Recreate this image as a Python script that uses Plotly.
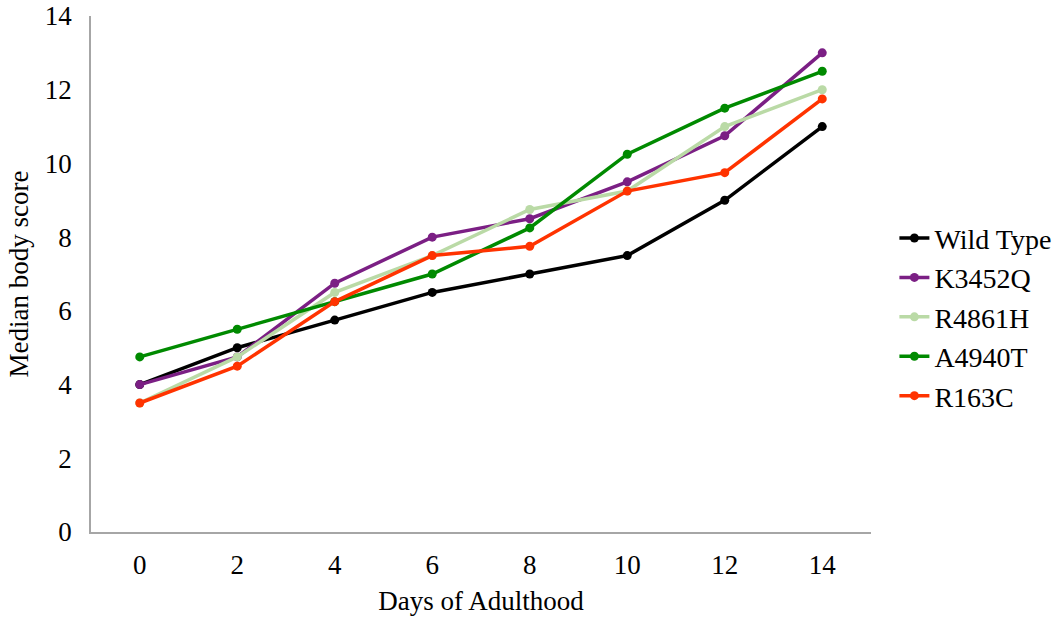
import plotly.graph_objects as go

days = [0, 2, 4, 6, 8, 10, 12, 14]
wild_type = [4.0, 5.0, 5.75, 6.5, 7.0, 7.5, 9.0, 11.0]
k3452q = [4.0, 4.75, 6.75, 8.0, 8.5, 9.5, 10.75, 13.0]
r4861h = [3.5, 4.75, 6.5, 7.5, 8.75, 9.25, 11.0, 12.0]
a4940t = [4.75, 5.5, 6.25, 7.0, 8.25, 10.25, 11.5, 12.5]
r163c = [3.5, 4.5, 6.25, 7.5, 7.75, 9.25, 9.75, 11.75]

series = [
    ("Wild Type", wild_type, "#000000"),
    ("K3452Q", k3452q, "#7B1F84"),
    ("R4861H", r4861h, "#BADAA6"),
    ("A4940T", a4940t, "#008A00"),
    ("R163C", r163c, "#FF3300"),
]

fig = go.Figure()
for name, vals, col in series:
    fig.add_trace(go.Scatter(
        x=days, y=vals, name=name, mode="lines+markers",
        line=dict(color=col, width=3.5),
        marker=dict(color=col, size=9),
    ))

font_family = "Liberation Serif"
fig.update_layout(
    width=1061, height=623,
    margin=dict(l=91, r=190, t=16, b=91, autoexpand=False),
    paper_bgcolor="white", plot_bgcolor="white",
    font=dict(family=font_family, size=27, color="black"),
    showlegend=True,
    legend=dict(x=1.03, y=0.417, xanchor="left", yanchor="middle",
                font=dict(family=font_family, size=28, color="black"),
                tracegroupgap=0, itemwidth=30, bgcolor="rgba(0,0,0,0)"),
    xaxis=dict(range=[-1, 15], tickmode="array", tickvals=days,
               ticktext=[str(d) for d in days], showgrid=False, zeroline=False,
               showline=True, linecolor="#A6A6A6", linewidth=1.5, ticks="",
               ticklabelstandoff=8, automargin=False,
               tickfont=dict(family=font_family, size=27),
               title=dict(text="Days of Adulthood", standoff=12,
                          font=dict(family=font_family, size=27))),
    yaxis=dict(range=[0, 14], tickvals=[0, 2, 4, 6, 8, 10, 12, 14], showgrid=False,
               zeroline=False, showline=True, linecolor="#A6A6A6", linewidth=1.5,
               ticks="", ticklabelstandoff=12, automargin=False,
               tickfont=dict(family=font_family, size=27),
               title=dict(text="Median body score", standoff=8,
                          font=dict(family=font_family, size=27))),
)

fig.write_html("out.html")
